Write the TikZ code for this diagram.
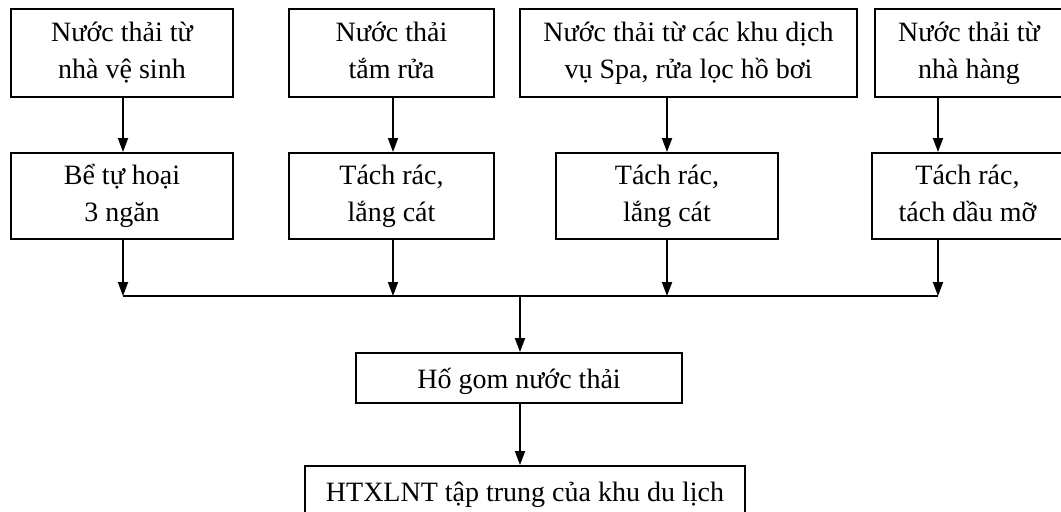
\documentclass[tikz,border=0pt]{standalone}
\usepackage{fontspec}
\setmainfont{Liberation Serif}
\usetikzlibrary{arrows.meta}
\tikzset{
  box/.style={draw, line width=1pt, align=center, inner sep=0pt,
    font=\fontsize{14}{18.5}\selectfont,
    execute at begin node=\rule{0pt}{13.5pt},
    execute at end node=\rule[-3pt]{0pt}{3pt}},
  flow/.style={line width=1pt, -{Triangle[length=7pt,width=5pt]}}
}
\begin{document}
\begin{tikzpicture}[x=0.5pt,y=-0.5pt]
\clip (0,0) rectangle (1061,511);
% first row
\node[box, minimum width=111pt, minimum height=44pt] (t1) at (122,53) {Nước thải từ\\nhà vệ sinh};
\node[box, minimum width=102.5pt, minimum height=44pt] (t2) at (391.5,53) {Nước thải\\tắm rửa};
\node[box, minimum width=168.5pt, minimum height=44pt] (t3) at (688.5,53) {Nước thải từ các khu dịch\\vụ Spa, rửa lọc hồ bơi};
\node[box, minimum width=94pt, minimum height=44pt] (t4) at (969,53) {Nước thải từ\\nhà hàng};
% second row
\node[box, minimum width=111pt, minimum height=43pt] (m1) at (122,196) {Bể tự hoại\\3 ngăn};
\node[box, minimum width=102.5pt, minimum height=43pt] (m2) at (391.5,196) {Tách rác,\\lắng cát};
\node[box, minimum width=111pt, minimum height=43pt] (m3) at (667,196) {Tách rác,\\lắng cát};
\node[box, minimum width=95.5pt, minimum height=43pt] (m4) at (967.5,196) {Tách rác,\\tách dầu mỡ};
% collector
\coordinate (b1) at (123,296);
\coordinate (b2) at (393,296);
\coordinate (b3) at (667,296);
\coordinate (b4) at (938,296);
\coordinate (bc) at (520,296);
\node[box, minimum width=163pt, minimum height=25pt] (hg) at (519,378) {Hố gom nước thải};
\node[box, minimum width=220pt, minimum height=25pt] (ht) at (525,491) {HTXLNT tập trung của khu du lịch};
\draw[flow] (t1.south -| b1) -- (m1.north -| b1);
\draw[flow] (t2.south -| b2) -- (m2.north -| b2);
\draw[flow] (t3.south -| b3) -- (m3.north -| b3);
\draw[flow] (t4.south -| b4) -- (m4.north -| b4);
\draw[flow] (m1.south -| b1) -- (b1);
\draw[flow] (m2.south -| b2) -- (b2);
\draw[flow] (m3.south -| b3) -- (b3);
\draw[flow] (m4.south -| b4) -- (b4);
\draw[line width=1pt] (b1) -- (b4);
\draw[flow] (bc) -- (hg.north -| bc);
\draw[flow] (hg.south -| bc) -- (ht.north -| bc);
\end{tikzpicture}
\end{document}
